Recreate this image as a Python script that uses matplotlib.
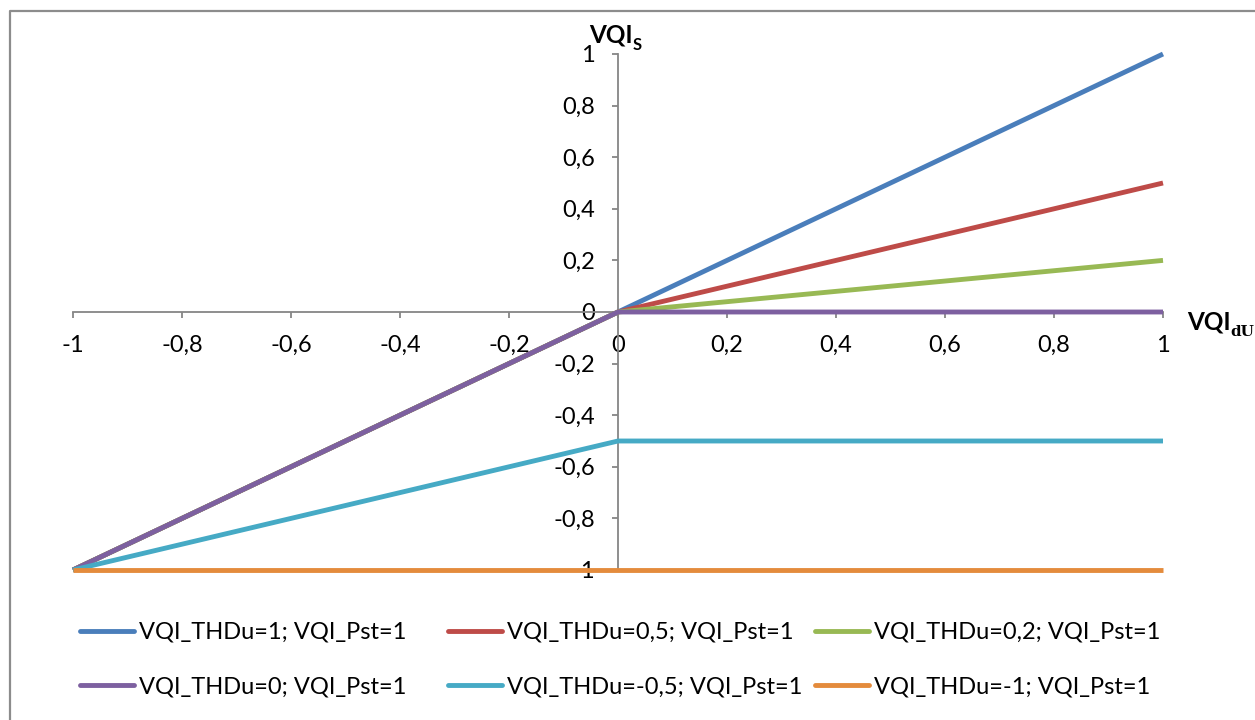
import numpy as np
import matplotlib
matplotlib.use("Agg")
import matplotlib.pyplot as plt
from matplotlib.lines import Line2D
from matplotlib.ticker import FuncFormatter, MultipleLocator

plt.rcParams['font.family'] = ['Lato', 'DejaVu Sans']

# Data
x_vals = [-1, 0, 1]
series_labels = [
    "VQI_THDu=1; VQI_Pst=1",
    "VQI_THDu=0,5; VQI_Pst=1",
    "VQI_THDu=0,2; VQI_Pst=1",
    "VQI_THDu=0; VQI_Pst=1",
    "VQI_THDu=-0,5; VQI_Pst=1",
    "VQI_THDu=-1; VQI_Pst=1",
]
y_thdu_1 = [-1, 0, 1]
y_thdu_05 = [-1, 0, 0.5]
y_thdu_02 = [-1, 0, 0.2]
y_thdu_0 = [-1, 0, 0]
y_thdu_m05 = [-1, -0.5, -0.5]
y_thdu_m1 = [-1, -1, -1]
series_values = [y_thdu_1, y_thdu_05, y_thdu_02, y_thdu_0, y_thdu_m05, y_thdu_m1]
colors = ['#4A7EBB', '#BE4B48', '#98B954', '#7D60A0', '#46AAC5', '#E48B3C']

W, H = 1255, 720
fig = plt.figure(figsize=(W / 100, H / 100), dpi=100)
ax = fig.add_axes([73 / W, 1 - 570 / H, (1163 - 73) / W, (570 - 54) / H])

LW = 3.5
for yv, lab, c in zip(series_values, series_labels, colors):
    ax.plot(x_vals, yv, color=c, lw=LW, label=lab, solid_capstyle='butt',
            solid_joinstyle='round', zorder=3, clip_on=False)

ax.set_xlim(-1, 1)
ax.set_ylim(-1, 1)
for s in ['top', 'right']:
    ax.spines[s].set_visible(False)
ax.spines['left'].set_position(('data', 0))
ax.spines['bottom'].set_position(('data', 0))
for s in ['left', 'bottom']:
    ax.spines[s].set_color('#868686')
    ax.spines[s].set_linewidth(1.3)
    ax.spines[s].set_zorder(2)
ax.set_facecolor('none')

ax.xaxis.set_major_locator(MultipleLocator(0.2))
ax.yaxis.set_major_locator(MultipleLocator(0.2))


def fmt(v, pos):
    v = round(v, 1)
    if v == 0:
        return "0"
    return f"{v:g}".replace('.', ',')


ax.xaxis.set_major_formatter(FuncFormatter(fmt))
ax.yaxis.set_major_formatter(FuncFormatter(fmt))
ax.tick_params(axis='x', direction='out', length=4.5, width=1.3, color='#868686',
               labelsize=17, pad=12)
ax.tick_params(axis='y', direction='out', length=4.5, width=1.3, color='#868686',
               labelsize=17, pad=12)

# axis titles (main text + subscript)
def px(x, y):
    return x / W, 1 - y / H

fig.text(*px(589, 43), 'VQI', fontsize=17.5, fontweight='bold', ha='left', va='baseline')
fig.text(*px(633, 50), 'S', fontsize=12, fontweight='bold', ha='left', va='baseline')
fig.text(*px(1187, 330), 'VQI', fontsize=17.5, fontweight='bold', ha='left', va='baseline')
fig.text(*px(1230, 336), 'dU', fontsize=11, fontweight='bold', ha='left', va='baseline',
         family=['DejaVu Serif'])

# Legends: three equal-width columns, two rows
col_x = [80, 448, 815]
for ci in range(3):
    idx = [ci, ci + 3]
    handles = [Line2D([0], [0], color=colors[i], lw=LW, solid_capstyle='round') for i in idx]
    labels = [series_labels[i] for i in idx]
    fig.legend(handles, labels, loc='upper left',
               bbox_to_anchor=(col_x[ci] / W, 1 - 622 / H),
               frameon=False, fontsize=17, handlelength=2.3, handletextpad=0.2,
               labelspacing=1.42, borderaxespad=0, borderpad=0)

# border (top & left visible)
fig.add_artist(Line2D([10 / W, 10 / W, 1.0], [0.0, 1 - 10.5 / H, 1 - 10.5 / H],
                      transform=fig.transFigure, color='#8C8C8C', lw=1.6))

fig.savefig('out.png', dpi=100)
